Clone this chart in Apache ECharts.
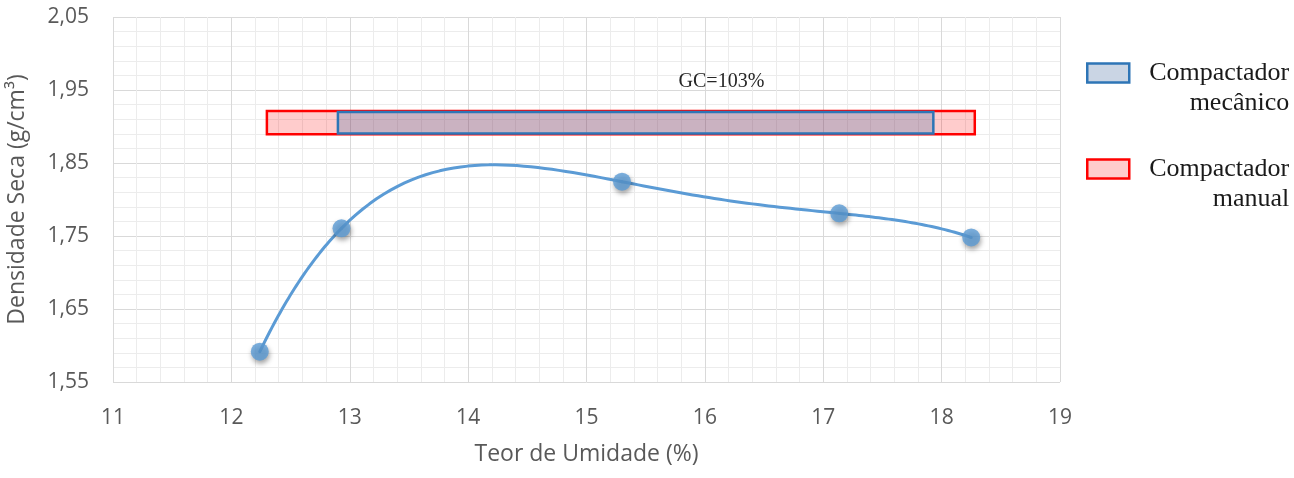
<!DOCTYPE html>
<html>
<head>
<meta charset="utf-8">
<script src="https://cdn.jsdelivr.net/npm/echarts@6/dist/echarts.min.js"></script>
<style>
  html, body { margin: 0; padding: 0; background: #fff; }
  #chart { width: 1294px; height: 478px; }
</style>
</head>
<body>
<div id="chart"></div>
<script>
// pontos do ensaio de compactação
const teorUmidade = [12.24, 12.93, 15.30, 17.135, 18.25]
const densidadeSeca = [1.5915, 1.7605, 1.8244, 1.781, 1.748]

// faixas GC=103%: [umidade min, umidade max, densidade min, densidade max]
const faixaMecanico = [12.90, 17.93, 1.8905, 1.9200]
const faixaManual = [12.30, 18.28, 1.8895, 1.9212]

// eixos
const xTicks = [11, 19, 1]        // min, max, intervalo
const yTicks = [1.55, 2.05, 0.1]

// anotação
const gcPos = [16.14, 1.961]
const gcText = 'GC=103%'

const legendNames = ['Compactador mecânico', 'Compactador manual']
const legendLines = {
  'Compactador mecânico': ['Compactador', 'mecânico'],
  'Compactador manual': ['Compactador', 'manual']
}

const axisFont = 'Open Sans'
const serifFont = 'Liberation Serif'

// linha de tendência polinomial (ordem 4, passa pelos 5 pontos, como no Excel)
const trend = (x) => {
  let s = 0
  for (let i = 0; i < teorUmidade.length; i++) {
    let p = densidadeSeca[i]
    for (let j = 0; j < teorUmidade.length; j++) {
      if (j !== i) p *= (x - teorUmidade[j]) / (teorUmidade[i] - teorUmidade[j])
    }
    s += p
  }
  return s
}

const faixaRender = (fill, stroke) => (params, api) => {
  const p0 = api.coord([api.value(0), api.value(3)])
  const p1 = api.coord([api.value(1), api.value(2)])
  return {
    type: 'rect',
    shape: { x: p0[0], y: p0[1], width: p1[0] - p0[0], height: p1[1] - p0[1] },
    style: { fill: fill, stroke: stroke, lineWidth: 2.5 }
  }
}

const option = {
  animation: false,
  grid: { left: 113, right: 234, top: 17, bottom: 96, outerBoundsMode: 'none' },
  xAxis: {
    type: 'value',
    min: xTicks[0], max: xTicks[1], interval: xTicks[2],
    name: 'Teor de Umidade (%)',
    nameLocation: 'middle',
    nameGap: 61,
    nameTextStyle: { color: '#595959', fontSize: 23, fontFamily: axisFont },
    axisLine: { show: false },
    axisTick: { show: false },
    axisLabel: { margin: 26, color: '#595959', fontSize: 21, fontFamily: axisFont },
    splitLine: { show: true, lineStyle: { color: '#d9d9d9', width: 1 } },
    minorTick: { show: false, splitNumber: 5 },
    minorSplitLine: { show: true, lineStyle: { color: '#ececec', width: 1 } }
  },
  yAxis: {
    type: 'value',
    min: yTicks[0], max: yTicks[1], interval: yTicks[2],
    name: 'Densidade Seca (g/cm³)',
    nameLocation: 'middle',
    nameGap: 84,
    nameTextStyle: { color: '#595959', fontSize: 23, fontFamily: axisFont },
    axisLine: { show: false },
    axisTick: { show: false },
    axisLabel: {
      margin: 24, color: '#595959', fontSize: 21, fontFamily: axisFont,
      formatter: (v) => v.toFixed(2).replace('.', ',')
    },
    splitLine: { show: true, lineStyle: { color: '#d9d9d9', width: 1 } },
    minorTick: { show: false, splitNumber: 5 },
    minorSplitLine: { show: true, lineStyle: { color: '#ececec', width: 1 } }
  },
  legend: {
    orient: 'vertical',
    left: 1086,
    top: 60,
    padding: 0,
    itemWidth: 42,
    itemHeight: 19,
    itemGap: 40,
    selectedMode: false,
    data: [
      { name: legendNames[0], icon: 'rect', itemStyle: { color: 'rgba(80,115,165,0.3)', borderColor: '#2E75B6', borderWidth: 2.5 } },
      { name: legendNames[1], icon: 'rect', itemStyle: { color: 'rgba(255,0,0,0.2)', borderColor: '#FF0000', borderWidth: 2.5 } }
    ],
    formatter: (name) => legendLines[name].map((t) => '{r|' + t + '}').join('\n'),
    textStyle: {
      padding: [30, 0, 0, 0],
      rich: {
        r: { width: 155, align: 'right', fontSize: 26, lineHeight: 30, fontFamily: serifFont, color: '#1a1a1a' }
      }
    }
  },
  series: [
    {
      name: 'Compactador manual',
      type: 'custom',
      data: [faixaManual],
      encode: { x: [0, 1], y: [2, 3] },
      renderItem: faixaRender('rgba(255,0,0,0.2)', '#FF0000'),
      z: 2
    },
    {
      name: 'Compactador mecânico',
      type: 'custom',
      data: [faixaMecanico],
      encode: { x: [0, 1], y: [2, 3] },
      renderItem: faixaRender('rgba(80,115,165,0.3)', '#2E75B6'),
      z: 3
    },
    {
      name: 'tendencia',
      type: 'custom',
      data: teorUmidade.map((x, i) => [x, densidadeSeca[i]]),
      encode: { x: 0, y: 1 },
      renderItem: (params, api) => {
        const i = params.dataIndex
        if (i >= teorUmidade.length - 1) return null
        const x0 = teorUmidade[i]
        const x1 = teorUmidade[i + 1]
        const pts = []
        for (let k = 0; k <= 40; k++) {
          const x = x0 + (x1 - x0) * k / 40
          pts.push(api.coord([x, trend(x)]))
        }
        return {
          type: 'polyline',
          shape: { points: pts },
          style: { stroke: '#5B9BD5', lineWidth: 3, fill: null, lineCap: 'round', lineJoin: 'round' }
        }
      },
      z: 4
    },
    {
      name: 'ensaio',
      type: 'scatter',
      data: teorUmidade.map((x, i) => [x, densidadeSeca[i]]),
      symbolSize: 18,
      itemStyle: {
        color: '#5B9BD5',
        shadowBlur: 5,
        shadowColor: 'rgba(0,0,0,0.45)',
        shadowOffsetX: 1,
        shadowOffsetY: 3
      },
      z: 5
    },
    {
      name: 'gc',
      type: 'custom',
      data: [gcPos],
      encode: { x: 0, y: 1 },
      renderItem: (params, api) => {
        const p = api.coord([api.value(0), api.value(1)])
        return {
          type: 'text',
          x: p[0], y: p[1],
          style: { text: gcText, fill: '#262626', font: '20px "Liberation Serif"', align: 'center', verticalAlign: 'middle' }
        }
      },
      z: 6
    }
  ]
}

const chart = echarts.init(document.getElementById('chart'))
chart.setOption(option)
</script>
</body>
</html>
